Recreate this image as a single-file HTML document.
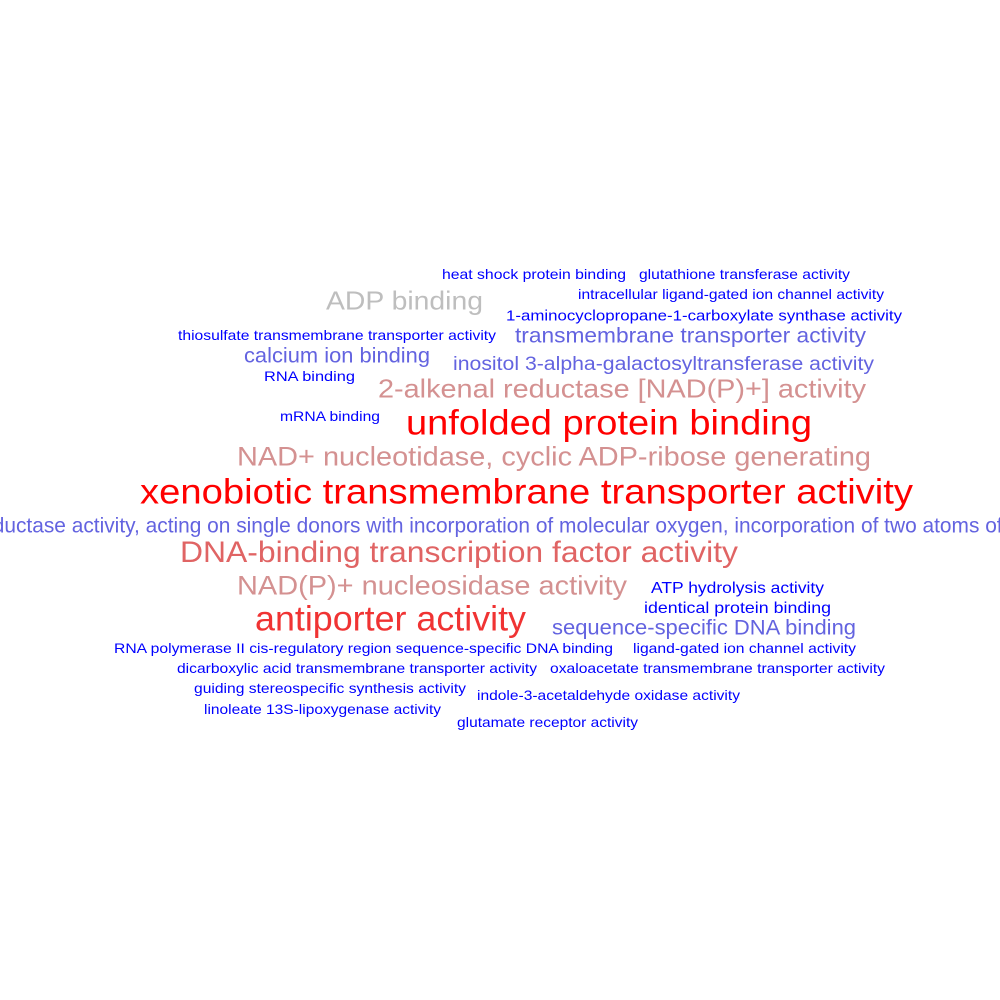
<!DOCTYPE html>
<html><head><meta charset="utf-8"><style>
html,body{margin:0;padding:0;background:#fff;width:1000px;height:1000px;overflow:hidden}
svg{display:block}
text{font-family:"Liberation Sans",sans-serif}
</style></head><body>
<svg id="cloud" width="1000" height="1000" viewBox="0 0 1000 1000"></svg>
<script>
const words = [
"heat shock protein binding","glutathione transferase activity","ADP binding","intracellular ligand-gated ion channel activity",
"1-aminocyclopropane-1-carboxylate synthase activity","thiosulfate transmembrane transporter activity","transmembrane transporter activity",
"calcium ion binding","inositol 3-alpha-galactosyltransferase activity","RNA binding","2-alkenal reductase [NAD(P)+] activity",
"mRNA binding","unfolded protein binding","NAD+ nucleotidase, cyclic ADP-ribose generating","xenobiotic transmembrane transporter activity",
"oxidoreductase activity, acting on single donors with incorporation of molecular oxygen, incorporation of two atoms of oxygen",
"DNA-binding transcription factor activity","NAD(P)+ nucleosidase activity","ATP hydrolysis activity","identical protein binding",
"antiporter activity","sequence-specific DNA binding","RNA polymerase II cis-regulatory region sequence-specific DNA binding",
"ligand-gated ion channel activity","dicarboxylic acid transmembrane transporter activity","oxaloacetate transmembrane transporter activity",
"guiding stereospecific synthesis activity","indole-3-acetaldehyde oxidase activity","linoleate 13S-lipoxygenase activity","glutamate receptor activity"];
const lefts  = [442,639,326,578,506,178,515,244,453,264,378,280,406,237,140,0,180,237,651,644,255,552,114,633,177,550,194,477,204,457];
const rights = [626,850,483,884,902,496,866,430,874,355,866,380,812,871,913,0,738,627,824,831,526,856,613,856,537,885,466,740,441,638];
const mids   = [274,274,300,294,315,335,335,355,363,376,388,416,422,456,491,525,551,585,587,607,618,627,648,648,668,668,688,695,709,722];
const sizes  = [14,14,26,14,15,14,21,21,19,14,26,14,35,27,35,20.9,30,27,16,16,35,21,14,14,14,14,14,14,14,14];
const colors = ["#0000ff","#0000ff","#bebebe","#0000ff","#0000ff","#0000ff","#6363e0","#6363e0","#6363e0","#0000ff","#d49191",
"#0000ff","#ff0000","#d49191","#ff0000","#6363e0","#e06464","#d49191","#0000ff","#0000ff","#f03333","#6363e0","#0000ff",
"#0000ff","#0000ff","#0000ff","#0000ff","#0000ff","#0000ff","#0000ff"];
const svg = document.getElementById('cloud');
const NS = 'http://www.w3.org/2000/svg';
words.forEach((w,i)=>{
  const t = document.createElementNS(NS,'text');
  
  
  const wide = rights[i] > lefts[i];
  t.setAttribute('x', wide ? (lefts[i]+rights[i])/2 : 500);
  t.setAttribute('y', mids[i] + sizes[i]*0.36);
  t.setAttribute('text-anchor','middle');
  t.setAttribute('font-size', sizes[i]);
  t.setAttribute('fill', colors[i]);
  if (wide) {
    t.setAttribute('textLength', rights[i]-lefts[i]);
    t.setAttribute('lengthAdjust','spacingAndGlyphs');
  }
  t.textContent = w;
  svg.appendChild(t);
});
</script>
</body></html>
